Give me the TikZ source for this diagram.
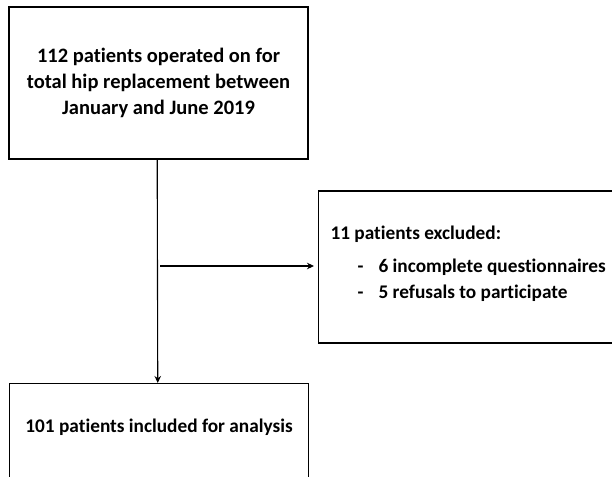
\documentclass[tikz,border=0pt]{standalone}
\usepackage{fontspec}
\setmainfont{Carlito}[Ligatures=NoCommon]
\usetikzlibrary{arrows.meta}
\tikzset{
box/.style={rectangle, draw=black, line width=1.1bp, font=\fontsize{19.3bp}{26bp}\selectfont\bfseries},
arrow/.style={line width=1.1bp,->,>={Stealth[length=7bp,width=6.5bp]}}}

\begin{document}
\begin{tikzpicture}[x=1bp,y=-1bp]
\useasboundingbox (0,0) rectangle (612,477);
\clip (0,0) rectangle (612,477);
\node (cohort) [box, minimum width=299bp, minimum height=152bp, align=center, font=\fontsize{20.5bp}{26bp}\selectfont\bfseries] at (158.5,83) {112 patients operated on for\\total hip replacement between\\January and June 2019};
\node (excluded) [box, anchor=west, minimum width=330bp, minimum height=152bp, text width=306bp, inner xsep=12bp, align=flush left] at (318,267) {11 patients excluded:\\[7bp]\hspace*{27bp}\makebox[21bp][l]{-}6 incomplete questionnaires\\\hspace*{27bp}\makebox[21bp][l]{-}5 refusals to participate\\[-17bp]\mbox{}};
\node (included) [box, anchor=north west, minimum width=299bp, text height=14bp, text depth=100bp, inner ysep=35bp] at (9,383) {101 patients included for analysis};
\coordinate (split) at (160,266);

\draw [arrow] ([xshift=-1.3bp]cohort.south) -- ([xshift=-1.3bp]included.north);
\draw [arrow, shorten >=4bp] (split) -- (split -| excluded.west);
\end{tikzpicture}
\end{document}
